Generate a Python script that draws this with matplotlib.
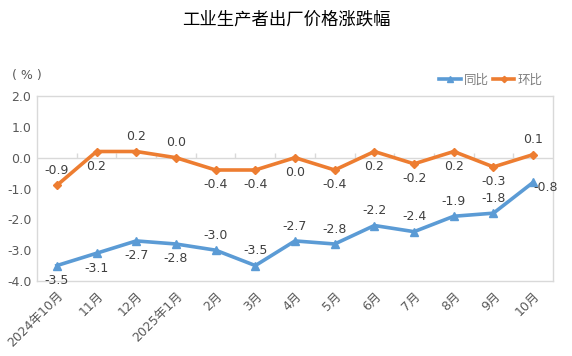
import matplotlib
matplotlib.use("Agg")
import matplotlib.pyplot as plt

plt.rcParams['font.family'] = ['DejaVu Sans', 'Noto Sans CJK SC']

categories = ["2024年10月", "11月", "12月", "2025年1月", "2月", "3月", "4月",
              "5月", "6月", "7月", "8月", "9月", "10月"]
yoy = [-3.5, -3.1, -2.7, -2.8, -3.0, -3.5, -2.7, -2.8, -2.2, -2.4, -1.9, -1.8, -0.8]
mom = [-0.9, 0.2, 0.2, 0.0, -0.4, -0.4, 0.0, -0.4, 0.2, -0.2, 0.2, -0.3, 0.1]
yoy_pos = ['below', 'below', 'below', 'below', 'above', 'above', 'above', 'above',
           'above', 'above', 'above', 'above', 'right']
mom_pos = ['above', 'below', 'above', 'above', 'below', 'below', 'below', 'below',
           'below', 'below', 'below', 'below', 'above']
yticks = [2.0, 1.0, 0.0, -1.0, -2.0, -3.0, -4.0]

blue = '#5b9bd5'
orange = '#ed7d31'
txt = '#404040'
grid = '#d9d9d9'

fig = plt.figure(figsize=(5.72, 3.56), dpi=100)
ax = fig.add_axes([37/572, 1-281/356, 516/572, 185/356])

x = list(range(len(categories)))
ax.plot(x, yoy, color=blue, lw=2.6, marker='^', ms=6, label='同比', zorder=3)
ax.plot(x, mom, color=orange, lw=2.6, marker='D', ms=4, label='环比', zorder=3)

ax.set_xlim(-0.5, len(categories)-0.5)
ax.set_ylim(-4.0, 2.0)
ax.set_yticks(yticks)
ax.set_yticklabels([f"{v:.1f}" for v in yticks], color='#595959', fontsize=9)
ax.set_xticks(x)
ax.set_xticklabels(categories, rotation=45, ha='right', rotation_mode='anchor',
                   color='#595959', fontsize=9)
ax.tick_params(axis='both', length=0, pad=4)
ax.tick_params(axis='x', pad=6)
for s in ax.spines.values():
    s.set_color(grid)
    s.set_linewidth(1)

ax.axhline(0, color=grid, lw=1, zorder=1)
ax.vlines([i + 0.5 for i in range(len(categories)-1)], 0, 0.16, color=grid, lw=1, zorder=1)

def annotate(vals, pos):
    for i, (v, p) in enumerate(zip(vals, pos)):
        if p == 'above':
            off, ha, va = (0, 6), 'center', 'bottom'
        elif p == 'below':
            off, ha, va = (0, -6), 'center', 'top'
        else:
            off, ha, va = (0, -4), 'left', 'center'
        ax.annotate(f"{v:.1f}", (i, v), xytext=off, textcoords='offset points',
                    ha=ha, va=va, fontsize=9, color=txt, zorder=4)

annotate(yoy, yoy_pos)
annotate(mom, mom_pos)

fig.text(0.5, 1-20/356, "工业生产者出厂价格涨跌幅", ha='center', va='center',
         fontsize=12.5, color='#000000', family=['Noto Sans CJK SC'])
fig.text(12/572, 1-75/356, "( % )", ha='left', va='center', fontsize=9, color='#595959')

leg = fig.legend(loc='center right', bbox_to_anchor=(548/572, 1-80/356), ncol=2,
                 frameon=False, fontsize=9, handlelength=1.7, columnspacing=0.3,
                 handletextpad=0.3, borderaxespad=0, markerscale=0.8)
for t in leg.get_texts():
    t.set_color('#7f7f7f')
    t.set_family(['Noto Sans CJK SC'])

fig.savefig('out.png', dpi=100)
